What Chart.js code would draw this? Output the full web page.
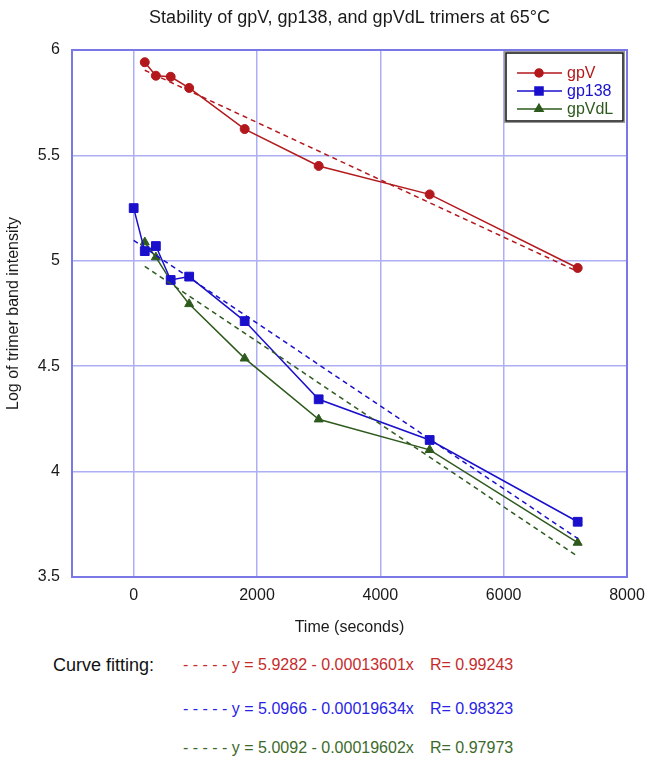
<!DOCTYPE html>
<html>
<head>
<meta charset="utf-8">
<script src="https://cdn.jsdelivr.net/npm/chart.js@4/dist/chart.umd.min.js"></script>
<style>
  html, body { margin: 0; padding: 0; background: #fff; }
  body { width: 652px; height: 757px; position: relative; overflow: hidden;
         font-family: 'Liberation Sans', Arial, sans-serif; }
  #wrap { position: absolute; left: 0; top: 0; width: 652px; height: 645px; }
  .fit-label { position: absolute; left: 53px; top: 654px; font-size: 18px; line-height: 22px; color: #111; }
  .fit-row { position: absolute; left: 183px; font-size: 16px; line-height: 20px; white-space: pre; }
  .fit-row .r { position: absolute; left: 247px; top: 0; }
</style>
</head>
<body>
<div id="wrap"><canvas id="chart"></canvas></div>

<div class="fit-label">Curve fitting:</div>
<div class="fit-row" id="fit0" style="top:655px"></div>
<div class="fit-row" id="fit1" style="top:699px"></div>
<div class="fit-row" id="fit2" style="top:738px"></div>

<script>
// ─── Dane ────────────────────────────────────────────────────────────────────

const gpvTime   = [180, 360, 600, 900, 1800, 3000, 4800, 7200];
const gpvLog    = [5.942, 5.878, 5.873, 5.820, 5.625, 5.450, 5.315, 4.966];

const gp138Time = [0, 180, 360, 600, 900, 1800, 3000, 4800, 7200];
const gp138Log  = [5.250, 5.046, 5.070, 4.909, 4.925, 4.714, 4.343, 4.150, 3.762];

const gpvdlTime = [180, 360, 600, 900, 1800, 3000, 4800, 7200];
const gpvdlLog  = [5.088, 5.017, 4.906, 4.795, 4.537, 4.248, 4.103, 3.663];

// końce prostych dopasowania
const fitGpvX   = [180, 7200];
const fitGpvY   = [5.904, 4.949];
const fitGp138X = [0, 7200];
const fitGp138Y = [5.097, 3.683];
const fitGpvdlX = [180, 7200];
const fitGpvdlY = [4.974, 3.598];

const seriesNames = ['gpV', 'gp138', 'gpVdL'];
const fitEquations = [
  'y = 5.9282 - 0.00013601x',
  'y = 5.0966 - 0.00019634x',
  'y = 5.0092 - 0.00019602x',
];
const fitR = ['R= 0.99243', 'R= 0.98323', 'R= 0.97973'];

const xTicks = [0, 2000, 4000, 6000, 8000];
const yTicks = [3.5, 4, 4.5, 5, 5.5, 6];

const COLORS = {
  gpv:      '#b3181c',
  gp138:    '#1a10cc',
  gpvdl:    '#2e5a1e',
  gpvText:  '#c42c2c',
  gp138Text:'#2a1fe4',
  gpvdlText:'#3d6a2c',
  grid:     '#aeaef4',
  frame:    '#7a78e6',
  text:     '#1a1a1a',
};

const FONT = "'Liberation Sans', Arial, sans-serif";

// ─── Helpers ─────────────────────────────────────────────────────────────────

function toPoints(xs, ys) {
  return xs.map((x, i) => ({ x, y: ys[i] }));
}

function dataSeries(label, xs, ys, color, style, radius) {
  return {
    label,
    data: toPoints(xs, ys),
    borderColor: color,
    backgroundColor: color,
    borderWidth: 1.5,
    pointStyle: style,
    pointRadius: radius,
    pointBorderWidth: 1,
    pointBorderColor: color,
    pointBackgroundColor: color,
    tension: 0,
    fill: false,
  };
}

function fitSeries(xs, ys, color) {
  return {
    label: '',
    data: toPoints(xs, ys),
    borderColor: color,
    borderWidth: 1.5,
    borderDash: [5, 4],
    pointRadius: 0,
    fill: false,
    isFit: true,
  };
}

// ─── Pluginy: tytuł, ramka, legenda ──────────────────────────────────────────

const decorPlugin = {
  id: 'decor',
  afterDraw(chart) {
    const { ctx, chartArea: a } = chart;
    ctx.save();

    // tytuł wyśrodkowany nad obszarem wykresu
    ctx.fillStyle = COLORS.text;
    ctx.font = `18px ${FONT}`;
    ctx.textAlign = 'center';
    ctx.textBaseline = 'middle';
    ctx.fillText('Stability of gpV, gp138, and gpVdL trimers at 65°C', (a.left + a.right) / 2, 18);

    // ramka obszaru wykresu
    ctx.strokeStyle = COLORS.frame;
    ctx.lineWidth = 2;
    ctx.strokeRect(a.left, a.top, a.right - a.left, a.bottom - a.top);

    // legenda
    const bx = a.right - 121, by = a.top + 3, bw = 117, bh = 68;
    ctx.fillStyle = '#fff';
    ctx.fillRect(bx, by, bw, bh);
    ctx.strokeStyle = '#999';
    ctx.lineWidth = 1;
    ctx.strokeRect(bx - 1.5, by - 1.5, bw + 3, bh + 3);
    ctx.strokeStyle = '#111';
    ctx.lineWidth = 1.5;
    ctx.strokeRect(bx, by, bw, bh);

    const colors = [COLORS.gpv, COLORS.gp138, COLORS.gpvdl];
    ctx.font = `16px ${FONT}`;
    ctx.textAlign = 'left';
    chart.data.datasets.filter(d => !d.isFit).forEach((ds, i) => {
      const y = by + 20 + i * 18;
      ctx.strokeStyle = colors[i];
      ctx.lineWidth = 1.5;
      ctx.beginPath();
      ctx.moveTo(bx + 11, y);
      ctx.lineTo(bx + 56, y);
      ctx.stroke();
      ctx.fillStyle = colors[i];
      Chart.helpers.drawPoint(ctx, { pointStyle: ds.pointStyle, radius: ds.pointRadius - 0.5, borderWidth: 1 }, bx + 33, y);
      ctx.fill();
      ctx.fillText(ds.label, bx + 61, y + 1);
    });

    ctx.restore();
  },
};

// ─── Wykres ──────────────────────────────────────────────────────────────────

const datasets = [
  fitSeries(fitGpvX, fitGpvY, COLORS.gpv),
  fitSeries(fitGp138X, fitGp138Y, COLORS.gp138),
  fitSeries(fitGpvdlX, fitGpvdlY, COLORS.gpvdl),
  dataSeries(seriesNames[0], gpvTime, gpvLog, COLORS.gpv, 'circle', 4.5),
  dataSeries(seriesNames[1], gp138Time, gp138Log, COLORS.gp138, 'rect', 6.2),
  dataSeries(seriesNames[2], gpvdlTime, gpvdlLog, COLORS.gpvdl, 'triangle', 5.2),
];

new Chart(document.getElementById('chart'), {
  type: 'line',
  data: { datasets },
  options: {
    responsive: true,
    maintainAspectRatio: false,
    animation: false,
    parsing: { xAxisKey: 'x', yAxisKey: 'y' },
    layout: { padding: { top: 50, right: 25, bottom: 0, left: 0 } },
    scales: {
      x: {
        type: 'linear',
        min: -1000,
        max: 8000,
        afterBuildTicks: s => { s.ticks = xTicks.map(v => ({ value: v })); },
        afterFit: s => { s.height = 68; s.paddingLeft = 0; s.paddingRight = 0; },
        ticks: {
          padding: 9,
          color: COLORS.text,
          font: { family: FONT, size: 16 },
          callback: v => String(v),
          maxRotation: 0,
        },
        title: {
          display: true,
          text: 'Time (seconds)',
          color: COLORS.text,
          font: { family: FONT, size: 16 },
          padding: { top: 0, bottom: 8 },
        },
        grid: { color: COLORS.grid, lineWidth: 1.5, drawTicks: false },
        border: { display: false },
      },
      y: {
        min: 3.5,
        max: 6,
        afterBuildTicks: s => { s.ticks = yTicks.map(v => ({ value: v })); },
        afterFit: s => { s.width = 72; s.paddingTop = 0; s.paddingBottom = 0; },
        ticks: {
          padding: 12,
          color: COLORS.text,
          font: { family: FONT, size: 16 },
          callback: v => String(v),
        },
        title: {
          display: true,
          text: 'Log of trimer band intensity',
          color: COLORS.text,
          font: { family: FONT, size: 16 },
          padding: { top: 4, bottom: 0 },
        },
        grid: { color: COLORS.grid, lineWidth: 1.5, drawTicks: false },
        border: { display: false },
      },
    },
    plugins: {
      legend: { display: false },
      tooltip: { enabled: false },
      title: { display: false },
    },
  },
  plugins: [decorPlugin],
});

// ─── Opis dopasowania pod wykresem ───────────────────────────────────────────

const fitColors = [COLORS.gpvText, COLORS.gp138Text, COLORS.gpvdlText];
fitEquations.forEach((eq, i) => {
  const row = document.getElementById('fit' + i);
  row.style.color = fitColors[i];
  row.innerHTML = `<span>- - - - - ${eq}</span><span class="r">${fitR[i]}</span>`;
});
</script>
</body>
</html>
